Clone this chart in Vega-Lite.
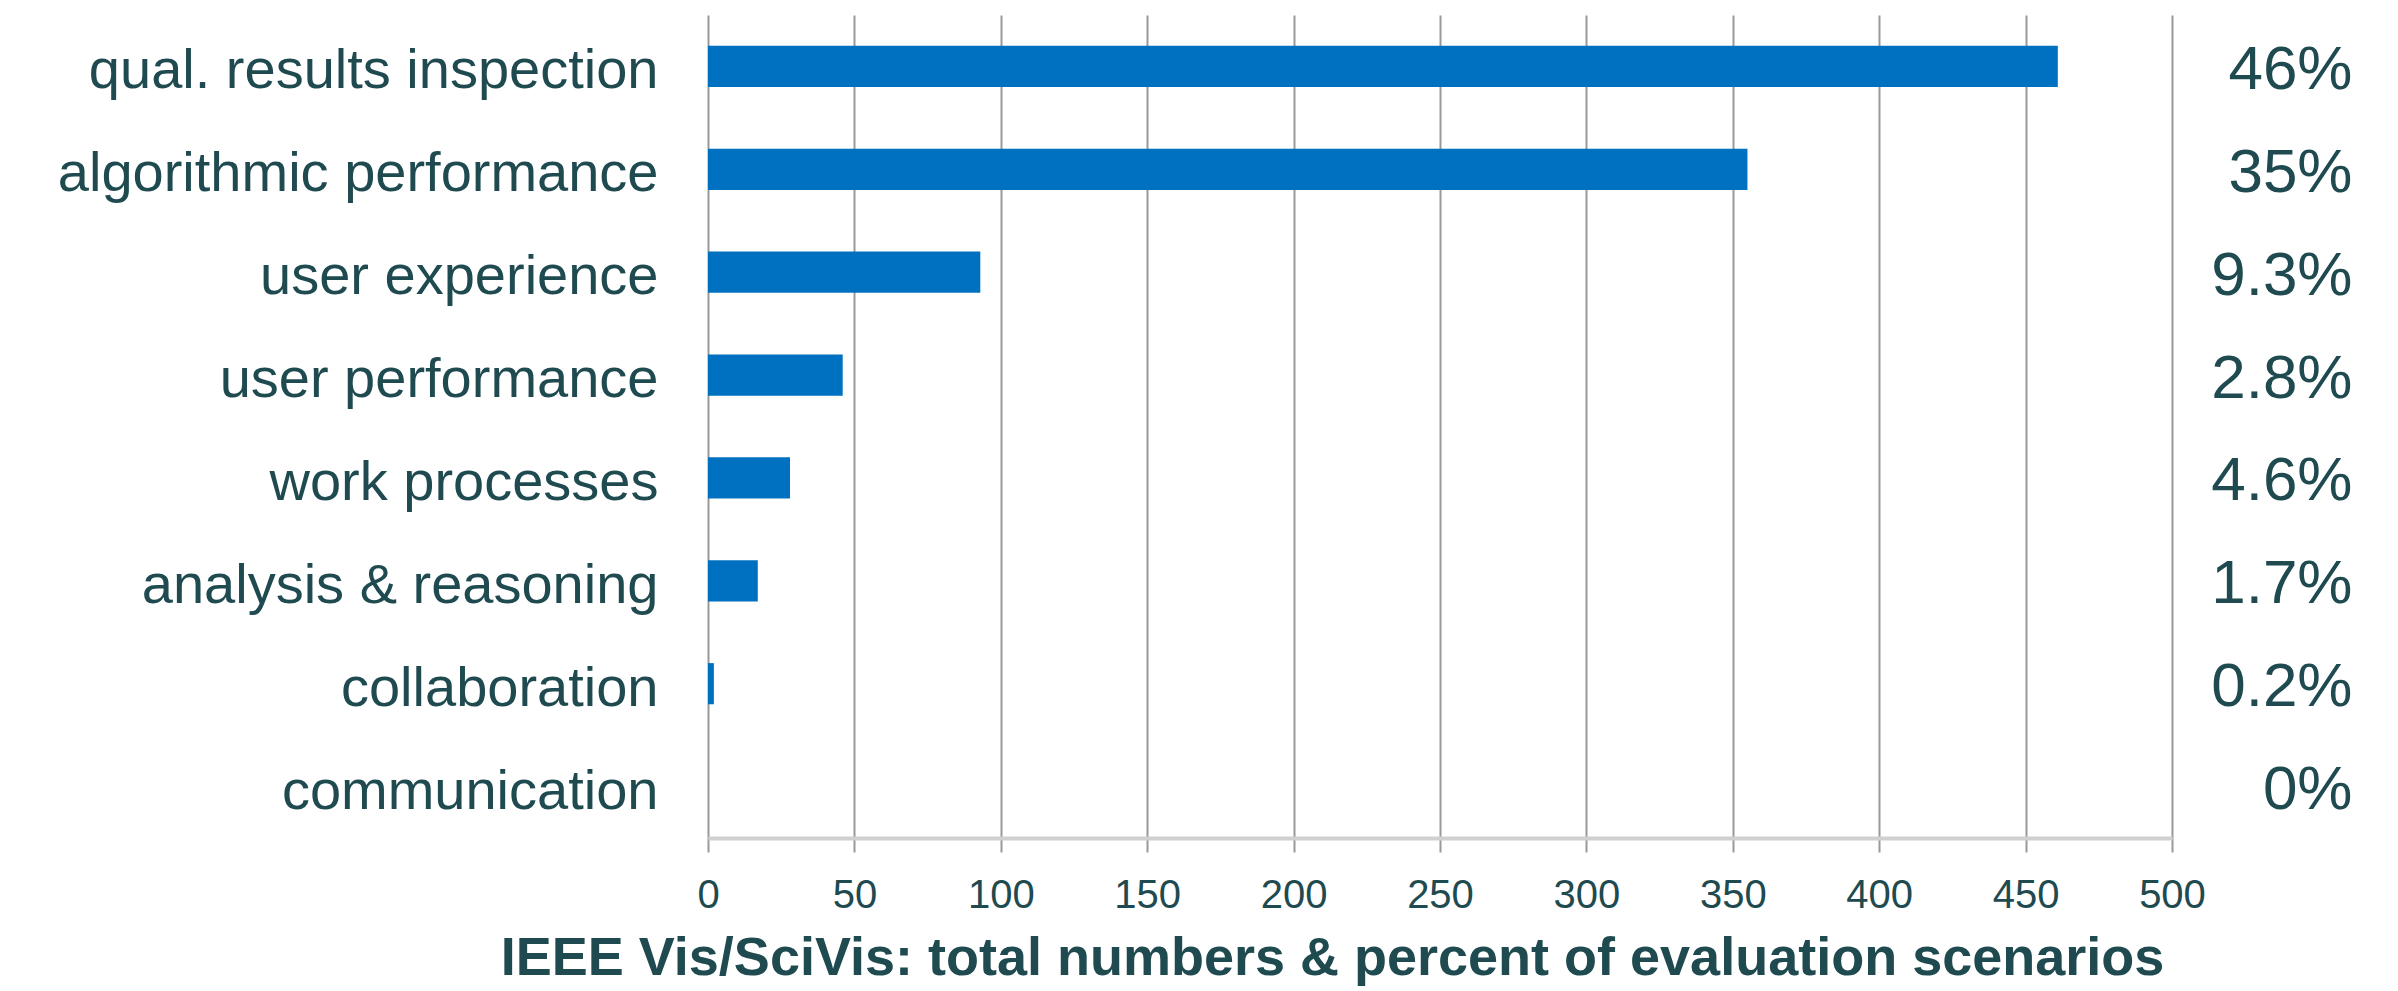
{
  "$schema": "https://vega.github.io/schema/vega-lite/v6.json",
  "width": 1464,
  "height": 823,
  "autosize": {"type": "none"},
  "padding": {"left": 708, "top": 15, "right": 226, "bottom": 153},
  "background": "white",
  "config": {"view": {"stroke": null}, "font": "Liberation Sans"},
  "data": {
    "values": [
      {"category": "qual. results inspection", "count": 461, "pct": "46%", "order": 1},
      {"category": "algorithmic performance", "count": 355, "pct": "35%", "order": 2},
      {"category": "user experience", "count": 93, "pct": "9.3%", "order": 3},
      {"category": "user performance", "count": 46, "pct": "2.8%", "order": 4},
      {"category": "work processes", "count": 28, "pct": "4.6%", "order": 5},
      {"category": "analysis & reasoning", "count": 17, "pct": "1.7%", "order": 6},
      {"category": "collaboration", "count": 2, "pct": "0.2%", "order": 7},
      {"category": "communication", "count": 0, "pct": "0%", "order": 8}
    ]
  },
  "layer": [
    {
      "mark": {"type": "bar", "color": "#0070c0"},
      "encoding": {
        "y": {
          "field": "category", "type": "nominal", "sort": {"field": "order"},
          "scale": {"paddingInner": 0.6, "paddingOuter": 0.3},
          "axis": {"title": null, "orient": "left", "domain": false, "ticks": false, "tickSize": 0,
            "labelPadding": 50, "labelFontSize": 56, "labelOffset": 5, "labelColor": "#1e4a50", "labelLimit": 900, "grid": false}
        },
        "x": {
          "field": "count", "type": "quantitative",
          "scale": {"domain": [0, 500], "nice": false},
          "axis": {
            "values": [0, 50, 100, 150, 200, 250, 300, 350, 400, 450, 500],
            "title": "IEEE Vis/SciVis: total numbers & percent of evaluation scenarios",
            "titleFontSize": 54, "titleFontWeight": "bold", "titleColor": "#1e4a50",
            "titleX": 624, "titleY": 93, "titleAlign": "center", "titleBaseline": "top",
            "labelFontSize": 40, "labelColor": "#1e4a50", "labelPadding": 23, "labelFlush": false,
            "grid": true, "gridColor": "#999999", "gridWidth": 2,
            "tickColor": "#999999", "tickWidth": 2, "tickSize": 14,
            "domainColor": "#d0d0d0", "domainWidth": 4
          }
        }
      }
    },
    {
      "mark": {"type": "point", "opacity": 0},
      "encoding": {
        "x": {"datum": 0},
        "y": {
          "field": "pct", "type": "nominal", "sort": {"field": "order"},
          "scale": {"padding": 0.5},
          "axis": {"title": null, "orient": "right", "domain": false, "ticks": false, "tickSize": 0,
            "labelPadding": 180, "labelAlign": "right", "labelFontSize": 62, "labelOffset": 3, "labelColor": "#1e4a50", "grid": false}
        }
      }
    }
  ],
  "resolve": {"scale": {"y": "independent"}, "axis": {"y": "independent"}}
}
